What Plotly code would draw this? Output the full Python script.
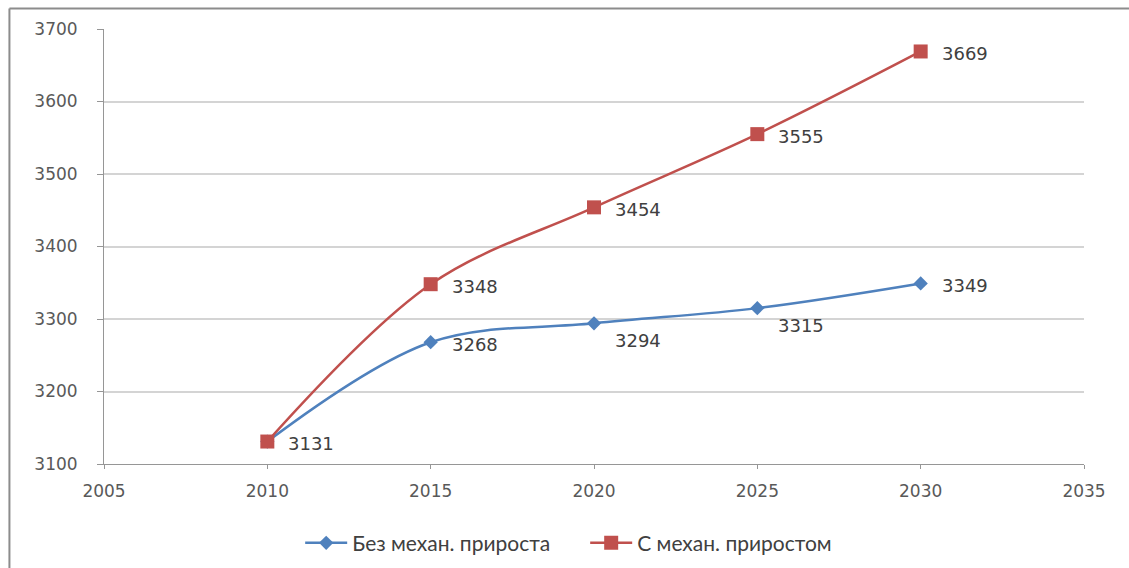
import plotly.graph_objects as go

years = [2010, 2015, 2020, 2025, 2030]
no_migration = [3131, 3268, 3294, 3315, 3349]
with_migration = [3131, 3348, 3454, 3555, 3669]
name_no = "Без механ. прироста"
name_with = "С механ. приростом"

blue = "#4F81BD"
red = "#C0504D"

fig = go.Figure()
fig.add_trace(go.Scatter(
    x=years, y=no_migration, name=name_no, mode="lines+markers",
    line=dict(color=blue, width=2.5, shape="spline", smoothing=1),
    marker=dict(symbol="diamond", size=11, color=blue),
))
fig.add_trace(go.Scatter(
    x=years, y=with_migration, name=name_with, mode="lines+markers",
    line=dict(color=red, width=2.5, shape="spline", smoothing=1),
    marker=dict(symbol="square", size=14, color=red),
))

# value labels: red series to the right, blue series right (first point shared)
label_font = dict(family="DejaVu Sans", size=18, color="#404040")
for x, v in zip(years, with_migration):
    fig.add_annotation(x=x, y=v, text=str(v), showarrow=False, xanchor="left",
                       xshift=19, yshift=-2, font=label_font)
for i, (x, v) in enumerate(zip(years, no_migration)):
    if i == 0:
        continue
    below = x in (2020, 2025)
    fig.add_annotation(x=x, y=v, text=str(v), showarrow=False, xanchor="left",
                       xshift=19, yshift=-17 if below else -2, font=label_font)

# outer frame (left and top edges)
fig.add_shape(type="line", xref="paper", yref="paper", x0=-0.0965, x1=-0.0965,
              y0=-0.3, y1=1.047, line=dict(color="#8c8c8c", width=2))
fig.add_shape(type="line", xref="paper", yref="paper", x0=-0.0965, x1=1.1,
              y0=1.047, y1=1.047, line=dict(color="#8c8c8c", width=2))

fig.update_layout(
    width=1129, height=568,
    margin=dict(l=104, r=45, t=29, b=104, autoexpand=False),
    plot_bgcolor="white", paper_bgcolor="white",
    font=dict(family="DejaVu Sans", size=17, color="#595959"),
    showlegend=True,
    legend=dict(orientation="h", x=0.491, xanchor="center", y=-0.182, yanchor="middle",
                font=dict(family="Lato", size=21, color="#404040"),
                entrywidth=228, entrywidthmode="pixels", itemwidth=42,
                tracegroupgap=0),
)
fig.update_xaxes(range=[2005, 2035], tickvals=[2005, 2010, 2015, 2020, 2025, 2030, 2035],
                 showgrid=False, showline=True, linecolor="#969696", linewidth=1,
                 ticks="outside", ticklen=4, tickcolor="#969696", zeroline=False,
                 tickfont=dict(size=17), ticklabelstandoff=8, automargin=False)
fig.update_yaxes(range=[3100, 3700], dtick=100, showgrid=True, gridcolor="#d4d4d4",
                 gridwidth=1.5, showline=True, linecolor="#969696", linewidth=1,
                 ticks="outside", ticklen=6, tickcolor="#969696", zeroline=False,
                 tickfont=dict(size=17), ticklabelstandoff=16, automargin=False)

fig.write_html("out.html")
